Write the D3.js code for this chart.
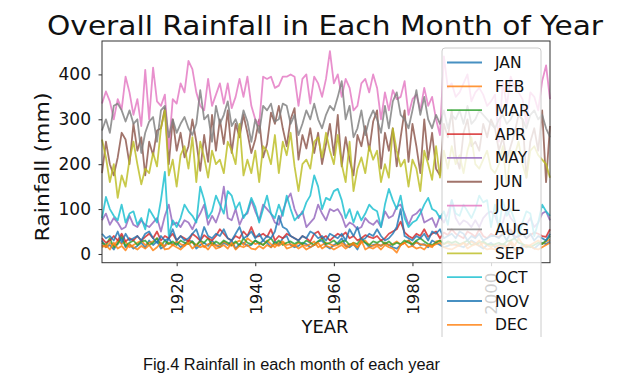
<!DOCTYPE html>
<html>
<head>
<meta charset="utf-8">
<script src="https://cdn.jsdelivr.net/npm/d3@7"></script>
<style>
  body { margin: 0; background: #fff; }
  svg { display: block; }
</style>
</head>
<body>
<div id="chart"></div>
<script>
const width = 618,
  height = 382;
const plot = { left: 102, top: 41, right: 550, bottom: 262.7 };

// years 1901..2015
const years = d3.range(1901, 2016);
const months = ["JAN", "FEB", "MAR", "APR", "MAY", "JUN", "JUL", "AUG", "SEP", "OCT", "NOV", "DEC"];
const xTicks = [1920, 1940, 1960, 1980, 2000];
const yTicks = [0, 100, 200, 300, 400];

const jan = [30, 15, 20, 10, 25, 35, 15, 22, 12, 18, 25, 14, 30, 20, 28, 12, 18, 35, 20, 25,
  15, 22, 30, 28, 12, 20, 25, 18, 30, 20, 15, 25, 20, 30, 12, 22, 25, 18, 20, 30,
  22, 30, 25, 15, 28, 20, 35, 40, 20, 15, 18, 25, 22, 15, 20, 28, 30, 18, 12, 20,
  25, 35, 18, 15, 22, 10, 30, 25, 15, 20, 22, 18, 25, 20, 15, 12, 20, 25, 30, 18,
  28, 20, 22, 15, 30, 25, 20, 15, 18, 22, 20, 18, 15, 22, 30, 25, 18, 12, 20, 25,
  15, 20, 22, 18, 25, 10, 12, 20, 15, 18, 12, 20, 25, 22, 28];
const feb = [20, 15, 25, 18, 30, 22, 28, 15, 20, 25, 30, 20, 25, 28, 35, 22, 18, 25, 20, 28,
  22, 18, 30, 25, 20, 28, 15, 22, 25, 18, 20, 28, 22, 18, 25, 30, 20, 35, 28, 22,
  25, 20, 30, 22, 15, 25, 28, 20, 22, 18, 25, 20, 18, 22, 28, 15, 20, 25, 22, 18,
  20, 25, 18, 22, 20, 15, 25, 30, 20, 18, 22, 18, 25, 20, 22, 28, 20, 25, 30, 22,
  25, 22, 20, 18, 15, 28, 30, 22, 25, 20, 22, 18, 25, 20, 28, 22, 18, 25, 20, 15,
  20, 18, 22, 15, 30, 18, 35, 22, 15, 20, 25, 30, 22, 28, 32];
const mar = [25, 20, 35, 15, 22, 40, 18, 25, 30, 20, 28, 30, 20, 25, 35, 18, 30, 22, 28, 20,
  30, 25, 22, 28, 18, 30, 25, 35, 20, 28, 22, 30, 25, 20, 28, 18, 35, 25, 22, 30,
  25, 20, 28, 35, 22, 30, 20, 25, 28, 22, 28, 22, 30, 25, 20, 28, 35, 22, 25, 30,
  22, 28, 30, 20, 25, 22, 35, 25, 20, 28, 25, 30, 22, 28, 20, 25, 22, 30, 25, 22,
  30, 35, 28, 22, 20, 25, 30, 22, 28, 25, 28, 22, 25, 30, 20, 22, 25, 28, 22, 20,
  22, 25, 20, 28, 30, 35, 25, 22, 18, 15, 20, 25, 22, 30, 40];
const apr = [35, 25, 30, 40, 30, 45, 28, 35, 30, 40, 30, 38, 45, 35, 50, 30, 40, 35, 45, 30,
  40, 35, 28, 45, 38, 30, 42, 35, 30, 40, 55, 45, 35, 30, 40, 35, 50, 40, 60, 38,
  40, 45, 38, 55, 30, 40, 35, 45, 40, 35, 30, 40, 35, 28, 45, 50, 35, 40, 30, 38,
  45, 40, 48, 35, 40, 30, 35, 42, 38, 35, 40, 30, 35, 45, 50, 55, 72, 48, 40, 35,
  45, 40, 55, 38, 45, 50, 35, 48, 42, 55, 45, 40, 35, 50, 45, 38, 55, 40, 35, 45,
  40, 38, 45, 50, 55, 40, 38, 45, 35, 42, 48, 45, 40, 38, 55];
const may = [75, 90, 65, 80, 70, 55, 60, 85, 65, 60, 75, 65, 60, 70, 80, 50, 85, 110, 65, 70,
  60, 75, 70, 55, 75, 90, 110, 65, 85, 70, 95, 150, 80, 75, 100, 65, 85, 90, 120, 95,
  75, 110, 100, 90, 70, 65, 95, 120, 135, 100, 80, 95, 60, 70, 80, 110, 90, 75, 100, 95,
  100, 85, 60, 70, 65, 55, 60, 80, 70, 65, 75, 60, 95, 80, 85, 105, 110, 90, 65, 85,
  90, 100, 70, 75, 80, 60, 85, 70, 90, 120, 80, 65, 75, 70, 60, 75, 60, 80, 90, 95,
  85, 60, 70, 100, 80, 70, 60, 70, 65, 80, 60, 70, 90, 95, 75];
const jun = [180, 250, 200, 175, 215, 270, 255, 200, 290, 230, 260, 175, 250, 220, 275, 280, 325, 200, 300, 230,
  270, 215, 240, 300, 250, 185, 265, 205, 310, 230, 300, 245, 320, 225, 290, 260, 310, 270, 225, 255,
  300, 215, 245, 315, 290, 330, 280, 240, 300, 325, 210, 265, 235, 280, 225, 270, 200, 245, 290, 220,
  310, 195, 260, 210, 175, 265, 240, 285, 230, 295, 320, 190, 270, 230, 280, 195, 260, 320, 205, 290,
  240, 180, 300, 210, 270, 190, 175, 290, 260, 320, 220, 190, 270, 300, 240, 250, 230, 290, 260, 300,
  280, 230, 260, 210, 240, 270, 310, 300, 170, 250, 280, 230, 320, 160, 285];
const jul = [335, 362, 340, 300, 345, 322, 395, 360, 310, 345, 285, 410, 300, 415, 340, 330, 355, 235, 345, 335,
  380, 360, 430, 412, 360, 330, 320, 390, 330, 355, 380, 335, 380, 325, 350, 390, 350, 395, 330, 300,
  288, 395, 390, 395, 370, 375, 395, 395, 400, 395, 330, 390, 400, 335, 395, 380, 350, 390, 452, 380,
  400, 350, 390, 370, 320, 330, 380, 390, 360, 400, 370, 300, 360, 320, 365, 345, 350, 385, 310, 345,
  355, 320, 370, 330, 350, 300, 265, 440, 370, 380, 350, 360, 380, 400, 340, 360, 370, 355, 330, 340,
  355, 250, 385, 330, 395, 370, 360, 345, 290, 360, 350, 320, 385, 420, 345];
const aug = [275, 300, 270, 330, 335, 320, 295, 320, 290, 300, 225, 270, 295, 305, 250, 320, 330, 260, 300, 270,
  290, 305, 280, 265, 290, 365, 300, 310, 250, 330, 290, 310, 340, 285, 300, 275, 320, 295, 250, 300,
  270, 330, 320, 335, 295, 300, 335, 330, 290, 310, 265, 290, 320, 300, 335, 300, 280, 310, 330, 320,
  350, 385, 300, 330, 260, 280, 320, 265, 300, 320, 300, 270, 330, 280, 340, 360, 310, 300, 280, 320,
  365, 310, 350, 300, 280, 310, 290, 320, 280, 310, 300, 320, 290, 330, 290, 300, 320, 310, 300, 290,
  280, 300, 310, 290, 300, 320, 310, 300, 280, 310, 320, 300, 310, 280, 260];
const sep = [255, 215, 160, 200, 125, 175, 150, 210, 250, 200, 155, 190, 180, 225, 195, 280, 320, 175, 210, 150,
  220, 240, 190, 260, 160, 250, 215, 170, 230, 200, 210, 180, 250, 230, 200, 290, 175, 210, 180, 230,
  160, 240, 230, 200, 265, 180, 250, 220, 270, 195, 140, 200, 210, 190, 250, 260, 215, 270, 230, 200,
  265, 200, 160, 250, 140, 190, 215, 180, 240, 210, 230, 160, 200, 170, 280, 230, 195, 210, 150, 210,
  190, 140, 230, 200, 165, 240, 170, 230, 190, 240, 200, 220, 180, 230, 260, 200, 190, 210, 230, 190,
  180, 200, 240, 150, 230, 220, 250, 200, 170, 230, 240, 220, 210, 200, 170];
const oct = [80, 127, 100, 85, 75, 110, 70, 90, 95, 65, 80, 55, 100, 85, 70, 120, 183, 40, 75, 60,
  80, 110, 95, 85, 70, 150, 120, 80, 95, 130, 110, 90, 140, 130, 100, 115, 80, 95, 125, 105,
  70, 100, 130, 90, 80, 110, 85, 130, 100, 75, 85, 90, 115, 130, 175, 150, 100, 125, 120, 140,
  145, 120, 80, 100, 70, 95, 75, 90, 110, 100, 95, 60, 110, 145, 120, 100, 130, 80, 60, 70,
  75, 90, 110, 125, 100, 95, 80, 95, 65, 120, 90, 85, 110, 95, 80, 100, 130, 115, 120, 60,
  110, 55, 120, 85, 100, 75, 40, 70, 95, 90, 40, 70, 110, 95, 85];
const nov = [45, 35, 40, 30, 50, 25, 45, 30, 35, 40, 30, 45, 50, 35, 25, 40, 30, 35, 55, 30,
  40, 30, 35, 45, 55, 30, 60, 40, 35, 45, 40, 55, 35, 30, 45, 60, 35, 40, 50, 35,
  45, 30, 40, 35, 50, 85, 60, 55, 40, 35, 30, 40, 35, 50, 45, 35, 40, 30, 45, 40,
  35, 45, 30, 55, 40, 60, 30, 35, 45, 40, 55, 40, 30, 35, 45, 60, 100, 40, 35, 30,
  40, 35, 45, 30, 50, 45, 55, 35, 40, 45, 35, 50, 45, 30, 40, 35, 45, 30, 35, 40,
  40, 35, 45, 30, 50, 35, 40, 45, 35, 45, 30, 40, 35, 30, 45];
const dec = [15, 20, 10, 25, 12, 18, 8, 22, 15, 10, 18, 12, 20, 8, 15, 25, 10, 12, 20, 15,
  10, 18, 25, 12, 20, 15, 18, 10, 22, 12, 15, 20, 12, 25, 10, 18, 15, 20, 12, 10,
  18, 12, 20, 15, 22, 18, 25, 12, 15, 20, 12, 18, 10, 15, 20, 25, 12, 18, 15, 10,
  15, 20, 12, 18, 25, 15, 30, 10, 15, 12, 18, 10, 20, 15, 12, 3, 20, 25, 15, 18,
  12, 15, 10, 20, 18, 22, 25, 15, 12, 10, 15, 20, 25, 12, 18, 22, 30, 15, 10, 12,
  10, 15, 18, 12, 25, 8, 10, 15, 20, 18, 12, 10, 15, 20, 25];

const series = [jan, feb, mar, apr, may, jun, jul, aug, sep, oct, nov, dec];
// matplotlib tab10 cycle, wraps after 10
const palette = ["#1f77b4", "#ff7f0e", "#2ca02c", "#d62728", "#9467bd",
  "#8c564b", "#e377c2", "#7f7f7f", "#bcbd22", "#17becf"];

const svg = d3
  .select("#chart")
  .append("svg")
  .attr("width", width)
  .attr("height", height)
  .style("font-family", "'DejaVu Sans', sans-serif");

const x = d3.scaleLinear().domain([1901, 2015]).range([plot.left, plot.right]);

// autoscale with 5% margins like matplotlib
const lo = d3.min(series, (s) => d3.min(s)),
  hi = d3.max(series, (s) => d3.max(s)),
  pad = (hi - lo) * 0.05;
const y = d3.scaleLinear().domain([lo - pad, hi + pad]).range([plot.bottom, plot.top]);

const line = d3
  .line()
  .x((_d, i) => x(years[i]))
  .y((d) => y(d));

svg
  .append("g")
  .selectAll("path")
  .data(series)
  .join("path")
  .attr("d", line)
  .attr("fill", "none")
  .attr("stroke", (_d, i) => palette[i % 10])
  .attr("stroke-width", 1.8)
  .attr("stroke-opacity", 0.82)
  .attr("stroke-linejoin", "round");

// frame
svg
  .append("rect")
  .attr("x", plot.left)
  .attr("y", plot.top)
  .attr("width", plot.right - plot.left)
  .attr("height", plot.bottom - plot.top)
  .attr("fill", "none")
  .attr("stroke", "#333")
  .attr("stroke-width", 1);

const xAxis = svg
  .append("g")
  .attr("transform", `translate(0, ${plot.bottom})`)
  .call(d3.axisBottom(x).tickValues(xTicks).tickSize(3.5).tickFormat(d3.format("d")));
xAxis.select(".domain").remove();
xAxis.selectAll("line").attr("stroke", "#333");
xAxis
  .selectAll("text")
  .attr("x", 0)
  .attr("y", 0)
  .attr("dy", "0.35em")
  .attr("transform", "translate(0, 10) rotate(-90)")
  .attr("text-anchor", "end")
  .attr("fill", "#111")
  .style("font-size", "16.5px")
  .style("font-family", "'DejaVu Sans'");

const yAxis = svg
  .append("g")
  .attr("transform", `translate(${plot.left}, 0)`)
  .call(d3.axisLeft(y).tickValues(yTicks).tickSize(3.5));
yAxis.select(".domain").remove();
yAxis.selectAll("line").attr("stroke", "#333");
yAxis
  .selectAll("text")
  .attr("x", -11)
  .attr("fill", "#111")
  .style("font-size", "17px")
  .style("font-family", "'DejaVu Sans'");

// title + axis labels
svg
  .append("text")
  .attr("x", 325)
  .attr("y", 35)
  .attr("text-anchor", "middle")
  .attr("textLength", 556)
  .attr("lengthAdjust", "spacingAndGlyphs")
  .style("font-size", "27px")
  .attr("fill", "#111")
  .text("Overall Rainfall in Each Month of Year");

svg
  .append("text")
  .attr("transform", "translate(49, 167) rotate(-90)")
  .attr("text-anchor", "middle")
  .attr("textLength", 149)
  .attr("lengthAdjust", "spacingAndGlyphs")
  .style("font-size", "20px")
  .attr("fill", "#111")
  .text("Rainfall (mm)");

svg
  .append("text")
  .attr("x", 325)
  .attr("y", 333)
  .attr("text-anchor", "middle")
  .attr("textLength", 47)
  .attr("lengthAdjust", "spacingAndGlyphs")
  .style("font-size", "17px")
  .attr("fill", "#111")
  .text("YEAR");

// legend, cut off by the crop of the figure
svg
  .append("clipPath")
  .attr("id", "crop")
  .append("rect")
  .attr("width", width)
  .attr("height", 337);

const legend = svg.append("g").attr("clip-path", "url(#crop)");
legend
  .append("rect")
  .attr("x", 442)
  .attr("y", 48)
  .attr("width", 99)
  .attr("height", 310)
  .attr("rx", 3)
  .attr("fill", "#fff")
  .attr("fill-opacity", 0.8)
  .attr("stroke", "#ccc");

const rows = legend
  .selectAll(".row")
  .data(months)
  .join("g")
  .attr("class", "row")
  .attr("transform", (_d, i) => `translate(0, ${62.5 + i * 23.85})`);
rows
  .append("line")
  .attr("x1", 447)
  .attr("x2", 482)
  .attr("stroke", (_d, i) => palette[i % 10])
  .attr("stroke-width", 1.8)
  .attr("stroke-opacity", 0.82);
rows
  .append("text")
  .attr("x", 495)
  .attr("dy", "0.36em")
  .style("font-size", "15.5px")
  .attr("fill", "#111")
  .text((d) => d);

// caption below the figure
svg
  .append("text")
  .attr("x", 143)
  .attr("y", 370)
  .attr("textLength", 297)
  .attr("lengthAdjust", "spacingAndGlyphs")
  .style("font-family", "'Liberation Sans', Arial, sans-serif")
  .style("font-size", "16px")
  .attr("fill", "#111")
  .text("Fig.4 Rainfall in each month of each year");
</script>
</body>
</html>
